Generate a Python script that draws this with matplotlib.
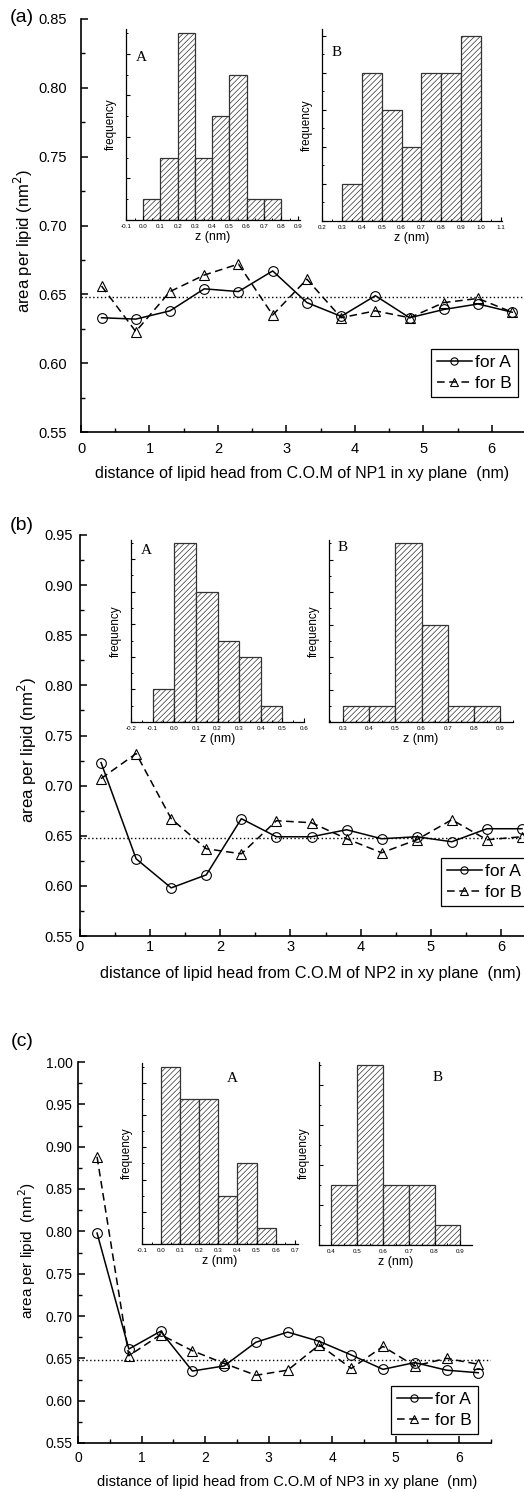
import matplotlib
matplotlib.use('Agg')
import matplotlib.pyplot as plt
from matplotlib.ticker import MultipleLocator, FormatStrFormatter

plt.rcParams['font.family'] = ['Liberation Sans', 'DejaVu Sans']
plt.rcParams['hatch.linewidth'] = 0.5
plt.rcParams['axes.unicode_minus'] = True

W, H = 524, 1492

# distance of lipid head from C.O.M of NP (nm)
dist = [0.3, 0.8, 1.3, 1.8, 2.3, 2.8, 3.3, 3.8, 4.3, 4.8, 5.3, 5.8, 6.3]

# area per lipid (nm^2)
np1_A = [0.633, 0.632, 0.638, 0.654, 0.652, 0.667, 0.644, 0.634, 0.649, 0.633, 0.639, 0.643, 0.637]
np1_B = [0.656, 0.623, 0.652, 0.664, 0.672, 0.635, 0.661, 0.633, 0.638, 0.633, 0.644, 0.647, 0.637]
np2_A = [0.723, 0.627, 0.598, 0.611, 0.667, 0.649, 0.649, 0.656, 0.647, 0.649, 0.644, 0.657, 0.657]
np2_B = [0.707, 0.732, 0.667, 0.637, 0.632, 0.665, 0.663, 0.647, 0.633, 0.646, 0.666, 0.646, 0.649]
np3_A = [0.798, 0.661, 0.682, 0.635, 0.641, 0.669, 0.681, 0.670, 0.654, 0.637, 0.645, 0.636, 0.633]
np3_B = [0.888, 0.653, 0.678, 0.659, 0.644, 0.630, 0.636, 0.666, 0.638, 0.664, 0.641, 0.650, 0.643]
ref_area = 0.648

# inset histograms: left bin edges (nm) and counts
np1_hA_left = [0.0, 0.1, 0.2, 0.3, 0.4, 0.5, 0.6, 0.7]
np1_hA_count = [1, 3, 9, 3, 5, 7, 1, 1]
np1_hB_left = [0.3, 0.4, 0.5, 0.6, 0.7, 0.8, 0.9]
np1_hB_count = [1, 4, 3, 2, 4, 4, 5]
np2_hA_left = [-0.1, 0.0, 0.1, 0.2, 0.3, 0.4]
np2_hA_count = [2, 11, 8, 5, 4, 1]
np2_hB_left = [0.3, 0.4, 0.5, 0.6, 0.7, 0.8]
np2_hB_count = [1, 1, 11, 6, 1, 1]
np3_hA_left = [0.0, 0.1, 0.2, 0.3, 0.4, 0.5]
np3_hA_count = [11, 9, 9, 3, 5, 1]
np3_hB_left = [0.4, 0.5, 0.6, 0.7, 0.8]
np3_hB_count = [3, 9, 3, 3, 1]

bin_w = 0.1

fig = plt.figure(figsize=(W / 100, H / 100), dpi=100)


def px_axes(l, t, r, b):
    return fig.add_axes([l / W, 1 - b / H, (r - l) / W, (b - t) / H])


def main_panel(box, yA, yB, ylim, ypad, xpad, fs, xfs, nplabel, xlab_pos, ylab_pos,
               ylab_text, leg_pos, tag, tag_pos):
    ax = px_axes(*box)
    ax.set_xlim(0, 6.5)
    ax.set_ylim(*ylim)
    ax.plot(dist, yA, color='black', lw=1.1, marker='o', ms=7, mfc='none',
            mec='black', mew=0.8, label='for A')
    ax.plot(dist, yB, color='black', lw=1.1, ls=(0, (5, 3)), marker='^', ms=7,
            mfc='none', mec='black', mew=0.8, label='for B')
    ax.axhline(ref_area, color='black', lw=1.0, ls=(0, (1, 1.8)))
    for s in ['top', 'right']:
        ax.spines[s].set_visible(False)
    for s in ['left', 'bottom']:
        ax.spines[s].set_linewidth(1.2)
    ax.xaxis.set_major_locator(MultipleLocator(1))
    ax.xaxis.set_minor_locator(MultipleLocator(0.5))
    ax.yaxis.set_major_locator(MultipleLocator(0.05))
    ax.yaxis.set_minor_locator(MultipleLocator(0.025))
    ax.yaxis.set_major_formatter(FormatStrFormatter('%.2f'))
    ax.tick_params(which='major', direction='in', length=5, width=1.1, labelsize=fs)
    ax.tick_params(which='minor', direction='in', length=3, width=1.0)
    ax.tick_params(axis='y', which='major', pad=ypad)
    ax.tick_params(axis='x', which='major', pad=xpad)
    ax.patch.set_alpha(0)
    leg = ax.legend(loc='upper right', bbox_to_anchor=(leg_pos[0] / W, 1 - leg_pos[1] / H),
                    bbox_transform=fig.transFigure, borderaxespad=0, fancybox=False,
                    framealpha=1, edgecolor='black', numpoints=1,
                    handlelength=2.0, handletextpad=0.2, borderpad=0.35,
                    labelspacing=0.3, markerscale=0.75, fontsize=12.5)
    leg.get_frame().set_linewidth(0.9)
    fig.text(xlab_pos[0] / W, 1 - xlab_pos[1] / H,
             'distance of lipid head from C.O.M of %s in xy plane  (nm)' % nplabel,
             ha='center', va='center', fontsize=xfs)
    fig.text(ylab_pos[0] / W, 1 - ylab_pos[1] / H, ylab_text, rotation=90,
             ha='center', va='center', fontsize=xfs + 0.5)
    fig.text(tag_pos[0] / W, 1 - tag_pos[1] / H, tag, ha='center', va='center',
             fontsize=14)
    return ax


def hist_inset(box, lefts, counts, xlim, ymax, ystep, letter, letter_xy):
    ax = px_axes(*box)
    ax.bar(lefts, counts, width=bin_w, align='edge', color='white',
           edgecolor='#333333', linewidth=0.9, hatch='//////')
    ax.set_xlim(*xlim)
    ax.set_ylim(0, ymax)
    for s in ['top', 'right']:
        ax.spines[s].set_visible(False)
    for s in ['left', 'bottom']:
        ax.spines[s].set_linewidth(0.9)
    ax.xaxis.set_major_locator(MultipleLocator(0.1))
    ax.xaxis.set_minor_locator(MultipleLocator(0.05))
    ax.xaxis.set_major_formatter(FormatStrFormatter('%.1f'))
    ax.yaxis.set_major_locator(MultipleLocator(ystep))
    ax.yaxis.set_minor_locator(MultipleLocator(ystep / 2))
    ax.tick_params(which='major', direction='in', length=3, width=0.8, labelsize=4.5, pad=3)
    ax.tick_params(which='minor', direction='in', length=1.5, width=0.7)
    ax.tick_params(axis='y', labelleft=False)
    ax.patch.set_alpha(0)
    ax.set_xlabel('z (nm)', fontsize=9, labelpad=1)
    ax.set_ylabel('frequency', fontsize=8.5, labelpad=3)
    ax.text(letter_xy[0], letter_xy[1], letter, transform=ax.transAxes,
            ha='center', va='center', fontsize=11,
            family=['Liberation Serif', 'DejaVu Serif'])
    return ax


# ---- panel (a) ----
main_panel((81, 19, 526, 432), np1_A, np1_B, (0.55, 0.85), 10, 7, 10.5, 11.5, 'NP1',
           (302, 473), (23, 241), 'area per lipid (nm$^2$)', (518, 349), '(a)', (22, 18))
hist_inset((126, 29, 300, 220), np1_hA_left, np1_hA_count, (-0.1, 0.91), 9.2, 2,
           'A', (0.09, 0.85))
hist_inset((322, 29, 502, 221), np1_hB_left, np1_hB_count, (0.2, 1.105), 5.18, 1,
           'B', (0.083, 0.875))

# ---- panel (b) ----
main_panel((80, 535, 536, 936), np2_A, np2_B, (0.55, 0.95), 5, 3, 10.5, 11.7, 'NP2',
           (311, 973), (27, 750), 'area per lipid (nm$^2$)', (528, 858), '(b)', (22, 525))
hist_inset((131, 540, 304, 722), np2_hA_left, np2_hA_count, (-0.2, 0.6), 11.17, 2,
           'A', (0.09, 0.945))
hist_inset((329, 540, 513, 722), np2_hB_left, np2_hB_count, (0.246, 0.95), 11.2, 2,
           'B', (0.076, 0.96))

# ---- panel (c) ----
main_panel((78, 1062, 491, 1443), np3_A, np3_B, (0.55, 1.00), 4, 6, 10, 10.5, 'NP3',
           (287, 1482), (27, 1251), 'area per lipid  (nm$^2$)', (478, 1386), '(c)', (22, 1042))
hist_inset((142, 1063, 298, 1244), np3_hA_left, np3_hA_count, (-0.1, 0.717), 11.24, 2,
           'A', (0.577, 0.917))
hist_inset((319, 1062, 472, 1245), np3_hB_left, np3_hB_count, (0.353, 0.945), 9.17, 2,
           'B', (0.778, 0.913))

fig.savefig('out.png', dpi=100)
